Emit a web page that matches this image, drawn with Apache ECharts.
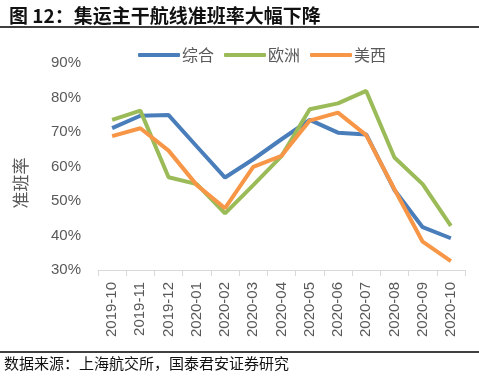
<!DOCTYPE html>
<html>
<head>
<meta charset="utf-8">
<script src="https://cdn.jsdelivr.net/npm/echarts@6/dist/echarts.min.js"></script>
<style>
html, body { margin: 0; padding: 0; background: #fff; }
#chart { width: 479px; height: 377px; }
</style>
</head>
<body>
<div id="chart"></div>
<script>
// 月份
var months = ['2019-10', '2019-11', '2019-12', '2020-01', '2020-02', '2020-03', '2020-04',
    '2020-05', '2020-06', '2020-07', '2020-08', '2020-09', '2020-10'];
// 准班率 (%)
var zonghe = [71.1, 74.7, 74.9, 65.8, 56.8, 62.1, 67.9, 73.5, 69.8, 69.3, 53.2, 42.4, 39.2];
var ouzhou = [73.5, 76.2, 56.9, 54.9, 46.4, 54.6, 63.0, 76.6, 78.3, 81.9, 62.6, 54.9, 42.8];
var meixi = [68.8, 71.1, 64.6, 54.6, 47.9, 59.9, 63.1, 73.3, 75.6, 69.1, 53.4, 38.2, 32.6];
var yTicks = [30, 40, 50, 60, 70, 80, 90];

var cjk = '"Noto Sans CJK SC", sans-serif';
var latin = '"Liberation Sans", Arial, sans-serif';
var chart = echarts.init(document.getElementById('chart'));

function line(name, data, color) {
    return {
        name: name,
        type: 'line',
        data: data,
        symbol: 'none',
        lineStyle: {width: 4, color: color},
        itemStyle: {color: color}
    };
}

chart.setOption({
    animation: false,
    title: {
        text: '图 12：集运主干航线准班率大幅下降',
        left: 4,
        top: 1,
        textStyle: {fontSize: 19, fontWeight: 'bold', color: '#111', fontFamily: cjk}
    },
    legend: {
        top: 42,
        left: 133,
        itemWidth: 42,
        itemHeight: 4,
        itemGap: 10,
        icon: 'roundRect',
        textStyle: {fontSize: 16, color: '#595959', fontFamily: cjk, padding: [0, 0, 0, -3]},
        data: ['综合', '欧洲', '美西']
    },
    grid: {left: 98, right: 14, top: 63, bottom: 107},
    xAxis: {
        type: 'category',
        data: months,
        axisLine: {lineStyle: {color: '#d9d9d9'}},
        axisTick: {show: true, length: 6, lineStyle: {color: '#d9d9d9'}},
        axisLabel: {rotate: 90, color: '#595959', fontSize: 15, fontFamily: latin, margin: 12}
    },
    yAxis: {
        type: 'value',
        min: yTicks[0],
        max: yTicks[yTicks.length - 1],
        interval: 10,
        axisLine: {show: false},
        axisTick: {show: false},
        splitLine: {show: false},
        axisLabel: {
            formatter: '{value}%',
            color: '#595959',
            fontSize: 15,
            fontFamily: latin,
            margin: 17
        }
    },
    graphic: [
        {type: 'line', shape: {x1: 0, y1: 27, x2: 479, y2: 27}, style: {stroke: '#000', lineWidth: 1.5}},
        {type: 'line', shape: {x1: 0, y1: 352, x2: 479, y2: 352}, style: {stroke: '#000', lineWidth: 1.5}},
        {
            type: 'text', x: 21, y: 183, rotation: Math.PI / 2,
            style: {text: '准班率', font: '17px ' + cjk, fill: '#595959', align: 'center', verticalAlign: 'middle'}
        },
        {
            type: 'text', left: 4, top: 356,
            style: {text: '数据来源：上海航交所，国泰君安证券研究', font: '15px ' + cjk, fill: '#111'}
        }
    ],
    series: [
        line('综合', zonghe, '#4a7ebb'),
        line('欧洲', ouzhou, '#9bbb59'),
        line('美西', meixi, '#f79646')
    ]
});
</script>
</body>
</html>
